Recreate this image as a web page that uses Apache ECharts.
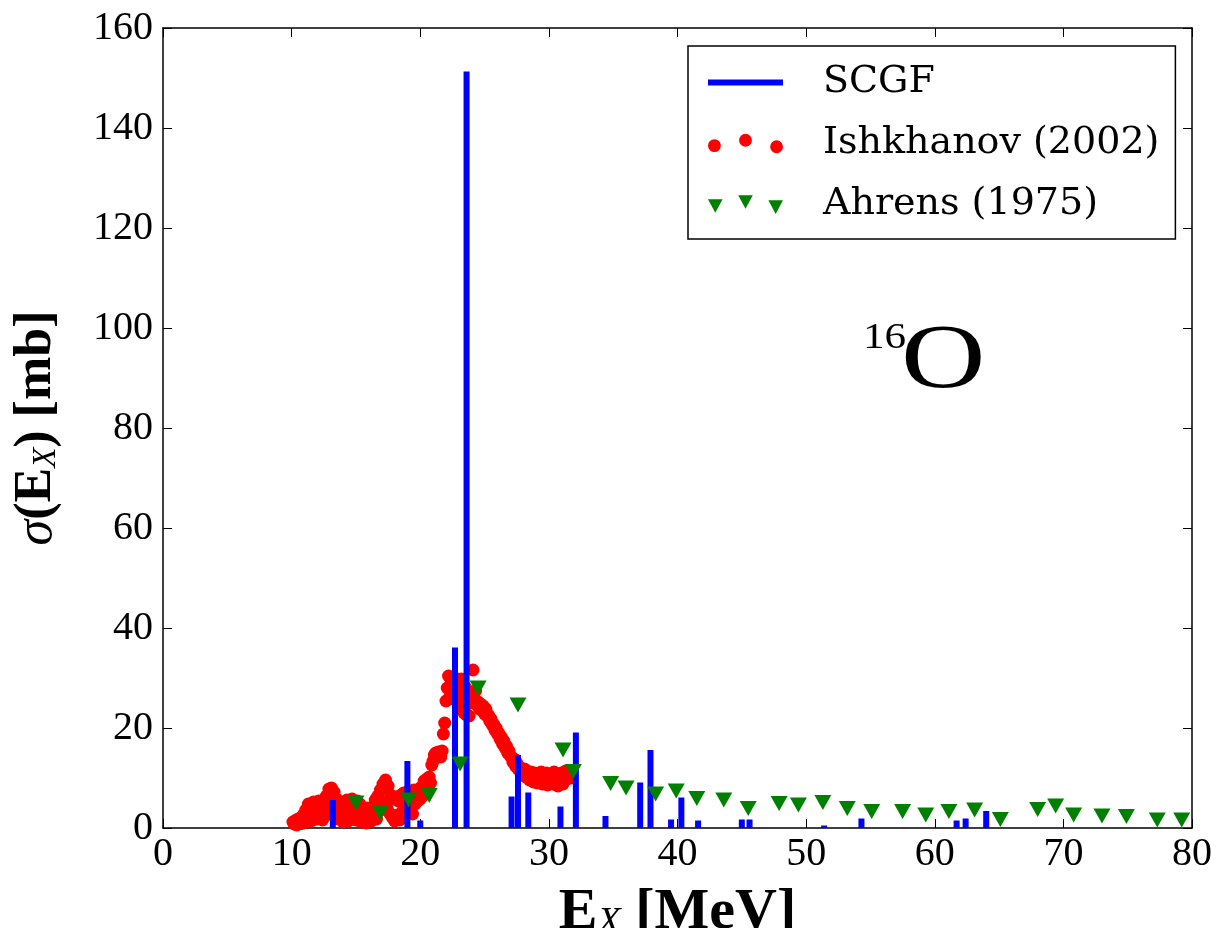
<!DOCTYPE html>
<html>
<head>
<meta charset="utf-8">
<script src="https://cdn.jsdelivr.net/npm/echarts@6/dist/echarts.min.js"></script>
<style>html,body{margin:0;padding:0;background:#fff}#c{width:1220px;height:928px}</style>
</head>
<body>
<div id="c"></div>
<script>
// SCGF discrete strengths: energy [MeV], cross section [mb]
var scgfE = [13.2, 19.0, 20.0, 22.7, 23.6, 27.1, 27.6, 28.4, 30.9, 32.1, 34.4, 37.1, 37.9, 39.5, 40.3, 41.6, 45.0, 45.6, 51.4, 54.3, 61.7, 62.4, 64.0];
var scgfS = [5.6, 13.4, 1.5, 36.1, 151.3, 6.3, 14.6, 7.1, 4.3, 19.1, 2.4, 9.1, 15.6, 1.7, 6.1, 1.5, 1.7, 1.7, 0.5, 1.9, 1.5, 1.9, 3.4];

// Ishkhanov (2002): energy [MeV]
var ishE = [10.1,10.2,10.3,10.4,10.5,10.6,10.7,10.8,10.9,11.0,11.1,11.2,11.3,11.4,11.5,11.6,11.7,11.8,11.9,12.0,
12.1,12.2,12.3,12.4,12.5,12.6,12.7,12.8,12.9,13.0,13.1,13.2,13.3,13.4,13.5,13.6,13.7,13.8,13.9,14.0,
14.1,14.2,14.3,14.4,14.5,14.6,14.7,14.8,14.9,15.0,15.1,15.2,15.3,15.4,15.5,15.6,15.7,15.8,15.9,16.0,
16.1,16.2,16.3,16.4,16.5,16.6,16.7,16.8,16.9,17.0,17.1,17.2,17.3,17.4,17.5,17.6,17.7,17.8,17.9,18.0,
18.1,18.2,18.3,18.4,18.5,18.6,18.7,18.8,18.9,19.0,19.1,19.2,19.3,19.4,19.5,19.6,19.7,19.8,19.9,20.0,
20.1,20.2,20.3,20.4,20.5,20.6,20.7,20.8,20.9,21.0,21.1,21.2,21.3,21.4,21.5,21.6,21.7,21.8,21.9,22.0,
22.1,22.2,22.3,22.4,22.5,22.6,22.7,22.8,22.9,23.0,23.1,23.2,23.3,23.4,23.5,23.6,23.7,23.8,23.9,24.0,
24.1,24.2,24.3,24.4,24.5,24.6,24.7,24.8,24.9,25.0,25.1,25.2,25.3,25.4,25.5,25.6,25.7,25.8,25.9,26.0,
26.1,26.2,26.3,26.4,26.5,26.6,26.7,26.8,26.9,27.0,27.1,27.2,27.3,27.4,27.5,27.6,27.7,27.8,27.9,28.0,
28.1,28.2,28.3,28.4,28.5,28.6,28.7,28.8,28.9,29.0,29.1,29.2,29.3,29.4,29.5,29.6,29.7,29.8,29.9,30.0,
30.1,30.2,30.3,30.4,30.5,30.6,30.7,30.8,30.9,31.0,31.1,31.2,31.3,31.4,31.5,31.6,31.7];
// Ishkhanov (2002): cross section [mb]
var ishS = [1.2,0.8,1.5,0.6,1.8,1.0,2.0,0.9,2.6,1.4,3.6,1.2,4.8,2.0,4.4,1.5,5.2,2.6,4.6,1.8,
5.4,3.0,4.2,1.6,5.0,2.4,6.4,3.2,7.8,4.0,8.0,2.8,7.2,3.6,5.8,1.8,4.4,2.2,4.0,1.2,
3.4,2.0,5.6,1.4,5.2,3.0,5.8,2.2,4.6,1.6,5.4,2.6,4.8,1.2,3.8,2.0,3.2,1.0,4.0,2.4,
3.6,1.4,4.2,2.8,5.6,1.8,6.4,3.4,7.6,4.6,8.8,5.2,9.6,4.0,8.4,3.0,6.6,2.2,5.8,1.4,
6.2,2.6,5.4,1.6,6.6,3.2,7.0,2.4,6.0,4.2,7.4,3.6,6.8,2.8,7.6,4.8,6.4,5.4,7.8,5.8,
8.2,6.4,9.4,7.2,9.8,8.4,10.2,9.0,12.6,13.4,14.6,15.0,14.4,15.2,14.8,14.2,15.4,18.8,21.0,25.4,
28.0,30.4,26.2,29.6,27.4,25.8,30.0,28.4,26.6,24.2,27.8,29.8,25.6,23.0,28.2,22.6,24.8,22.4,26.4,27.2,
31.6,25.8,27.4,24.6,25.2,23.8,24.8,23.6,24.4,22.8,23.8,22.4,22.6,21.4,21.8,20.6,20.8,19.6,20.0,18.8,
19.0,17.8,18.2,16.8,17.4,16.0,16.4,15.0,15.4,14.4,14.2,13.2,13.8,12.4,13.0,11.8,12.2,11.2,11.6,10.6,
11.8,10.2,11.4,10.8,9.6,11.2,10.0,9.2,11.0,10.4,9.0,10.8,9.6,11.2,8.8,10.2,9.4,11.0,8.6,10.6,
9.2,10.0,8.8,11.2,9.4,10.4,8.4,10.8,9.6,11.0,8.8,10.2,11.4,9.8,10.6,11.2,10.0];

// Ahrens (1975)
var ahrE = [15.0, 16.9, 19.1, 20.7, 23.1, 24.5, 27.6, 31.1, 31.9, 34.8, 36.0, 38.3, 39.9, 41.5, 43.6, 45.5, 47.9, 49.4, 51.3, 53.2, 55.1, 57.5, 59.3, 61.1, 63.1, 65.1, 68.0, 69.4, 70.8, 73.0, 74.9, 77.3, 79.2];
var ahrS = [5.0, 3.0, 5.6, 6.5, 12.8, 28.0, 24.6, 15.6, 11.3, 8.9, 8.0, 6.8, 7.4, 5.9, 5.6, 3.9, 4.9, 4.6, 5.1, 3.9, 3.3, 3.3, 2.6, 3.3, 3.6, 1.7, 3.7, 4.4, 2.6, 2.4, 2.3, 1.6, 1.6];

var xTicks = [0, 10, 20, 30, 40, 50, 60, 70, 80];
var yTicks = [0, 20, 40, 60, 80, 100, 120, 140, 160];

function pairs(a, b) { return a.map(function (v, i) { return [v, b[i]]; }); }

var FONT = 'Liberation Serif';
var chart = echarts.init(document.getElementById('c'), null, { renderer: 'canvas' });

var axisCommon = {
  type: 'value',
  axisLine: { show: true, onZero: false, lineStyle: { color: '#000', width: 1.5 } },
  axisTick: { show: true, inside: true, length: 9, lineStyle: { color: '#000', width: 1 } },
  splitLine: { show: false }
};

var option = {
  animation: false,
  backgroundColor: '#fff',
  grid: { left: 163, right: 28, top: 28, bottom: 100, containLabel: false, outerBoundsMode: 'none' },
  xAxis: [
    Object.assign({}, axisCommon, {
      min: xTicks[0], max: xTicks[xTicks.length - 1], interval: 10, position: 'bottom',
      axisLabel: { fontFamily: FONT, fontSize: 40, color: '#000', margin: 6 },
      name: '{e|E}{s|X}{e| [MeV]}', nameLocation: 'middle', nameGap: 52,
      nameTextStyle: {
        rich: {
          e: { fontFamily: FONT, fontWeight: 'bold', fontSize: 58, color: '#000', verticalAlign: 'bottom', lineHeight: 62 },
          s: { fontFamily: FONT, fontStyle: 'italic', fontSize: 38, color: '#000', verticalAlign: 'bottom', lineHeight: 50 }
        }
      }
    }),
    Object.assign({}, axisCommon, {
      min: xTicks[0], max: xTicks[xTicks.length - 1], interval: 10, position: 'top',
      axisLabel: { show: false }
    })
  ],
  yAxis: [
    Object.assign({}, axisCommon, {
      min: yTicks[0], max: yTicks[yTicks.length - 1], interval: 20, position: 'left',
      axisLabel: { fontFamily: FONT, fontSize: 40, color: '#000', margin: 10 },
      name: '{g|σ}{e|(E}{s|X}{e|) [mb]}', nameLocation: 'middle', nameGap: 100, nameRotate: 90,
      nameTextStyle: {
        rich: {
          g: { fontFamily: FONT, fontStyle: 'italic', fontSize: 52, color: '#000', verticalAlign: 'bottom', lineHeight: 58 },
          e: { fontFamily: FONT, fontWeight: 'bold', fontSize: 52, color: '#000', verticalAlign: 'bottom', lineHeight: 58 },
          s: { fontFamily: FONT, fontStyle: 'italic', fontSize: 33, color: '#000', verticalAlign: 'bottom', lineHeight: 48 }
        }
      }
    }),
    Object.assign({}, axisCommon, {
      min: yTicks[0], max: yTicks[yTicks.length - 1], interval: 20, position: 'right',
      axisLabel: { show: false }
    })
  ],
  legend: {
    orient: 'vertical',
    left: 688, top: 46,
    padding: [16, 16, 14, 20],
    itemGap: 20,
    itemWidth: 75, itemHeight: 20,
    borderColor: '#000', borderWidth: 1.5,
    selectedMode: false,
    textStyle: { fontFamily: 'DejaVu Serif', fontSize: 38, color: '#000', lineHeight: 41, padding: [0, 0, 0, 35] },
    data: [
      { name: 'SCGF', icon: 'path://M0,0h75v6h-75z', itemStyle: { color: '#0000ff' } },
      { name: 'Ishkhanov (2002)', icon: 'path://M0,10a6,6 0 1,0 12,0a6,6 0 1,0 -12,0zM29,5a6,6 0 1,0 12,0a6,6 0 1,0 -12,0zM58,11a6,6 0 1,0 12,0a6,6 0 1,0 -12,0z' },
      { name: 'Ahrens (1975)', icon: 'path://M0,4h14l-7,13zM29,0h14l-7,13zM58,5h14l-7,13z' }
    ]
  },
  graphic: [
    { type: 'text', x: 863, y: 321, scaleX: 1.2, style: { text: '16', fontFamily: FONT, fontSize: 36, fill: '#000' } },
    { type: 'text', x: 901, y: 318, scaleX: 1.3, style: { text: 'O', fontFamily: FONT, fontSize: 90, fill: '#000' } }
  ],
  series: [
    {
      name: 'Ishkhanov (2002)', type: 'scatter', xAxisIndex: 0, yAxisIndex: 0,
      data: pairs(ishE, ishS), symbol: 'circle', symbolSize: 13,
      itemStyle: { color: '#ff0000', opacity: 1 }, z: 2
    },
    {
      name: 'SCGF', type: 'bar', xAxisIndex: 0, yAxisIndex: 0,
      data: pairs(scgfE, scgfS), barWidth: 6, barGap: '-100%',
      itemStyle: { color: '#0000ff' }, z: 3
    },
    {
      name: 'Ahrens (1975)', type: 'scatter', xAxisIndex: 0, yAxisIndex: 0,
      data: pairs(ahrE, ahrS), symbol: 'triangle', symbolRotate: 180, symbolSize: [17, 15],
      itemStyle: { color: '#008000', opacity: 1 }, z: 4
    }
  ]
};
chart.setOption(option);
</script>
</body>
</html>
